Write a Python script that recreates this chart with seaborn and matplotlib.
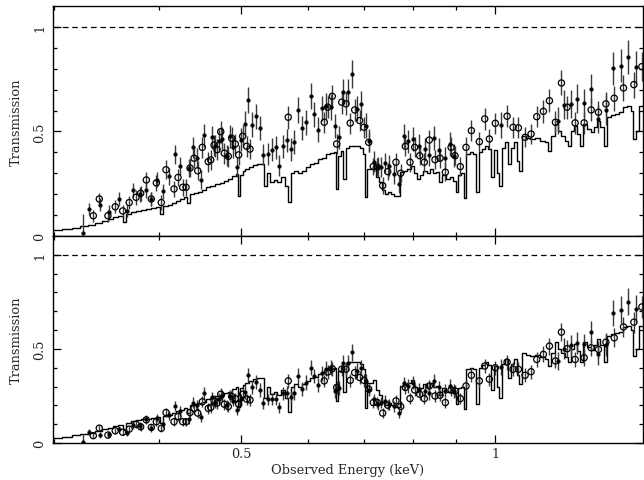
import numpy as np
import pandas as pd
import matplotlib
matplotlib.use("Agg")
import matplotlib.pyplot as plt
import matplotlib.ticker as mticker
import seaborn as sns

# ---------------- data ----------------
# model (step) : bin start energies (keV) and transmission
model_E = [0.2970, 0.3067, 0.3153, 0.3223, 0.3294, 0.3359, 0.3423, 0.3479, 0.3527, 0.3575,
           0.3625, 0.3654, 0.3705, 0.3756, 0.3807, 0.3860, 0.3913, 0.3966, 0.4010, 0.4043,
           0.4099, 0.4144, 0.4189, 0.4235, 0.4282, 0.4317, 0.4352, 0.4400, 0.4448, 0.4497,
           0.4546, 0.4596, 0.4659, 0.4723, 0.4775, 0.4827, 0.4880, 0.4933, 0.4960, 0.4987,
           0.5028, 0.5056, 0.5111, 0.5167, 0.5224, 0.5325, 0.5369, 0.5413, 0.5473, 0.5517,
           0.5577, 0.5639, 0.5685, 0.5732, 0.5779, 0.5842, 0.5906, 0.5971, 0.6036, 0.6102,
           0.6169, 0.6237, 0.6305, 0.6375, 0.6445, 0.6480, 0.6516, 0.6569, 0.6605, 0.6659,
           0.6713, 0.6843, 0.6918, 0.6975, 0.7013, 0.7052, 0.7110, 0.7168, 0.7227, 0.7286,
           0.7346, 0.7407, 0.7467, 0.7528, 0.7591, 0.7653, 0.7716, 0.7801, 0.7865, 0.7950,
           0.8016, 0.8082, 0.8149, 0.8216, 0.8306, 0.8374, 0.8443, 0.8512, 0.8582, 0.8653,
           0.8748, 0.8844, 0.8917, 0.8990, 0.9040, 0.9114, 0.9189, 0.9239, 0.9340, 0.9417,
           0.9494, 0.9572, 0.9652, 0.9731, 0.9811, 0.9890, 0.9973, 1.0055, 1.0110, 1.0193,
           1.0277, 1.0361, 1.0446, 1.0533, 1.0619, 1.0676, 1.0765, 1.0883, 1.1002, 1.1154,
           1.1307, 1.1463, 1.1557, 1.1652, 1.1780, 1.1877, 1.1974, 1.2106, 1.2205, 1.2306,
           1.2407, 1.2509, 1.2611, 1.2714, 1.2854, 1.2996, 1.3104, 1.3211, 1.3320, 1.3467,
           1.3577, 1.3725, 1.3877, 1.4027, 1.4181, 1.4337, 1.4493, 1.4573, 1.4693, 1.4812,
           1.4970]
model_T = [0.029, 0.034, 0.040, 0.048, 0.054, 0.062, 0.072, 0.080, 0.090, 0.097,
           0.067, 0.105, 0.115, 0.121, 0.125, 0.129, 0.135, 0.140, 0.105, 0.145,
           0.150, 0.158, 0.169, 0.175, 0.185, 0.160, 0.200, 0.205, 0.212, 0.220,
           0.233, 0.240, 0.249, 0.255, 0.265, 0.273, 0.285, 0.297, 0.193, 0.290,
           0.310, 0.320, 0.330, 0.340, 0.344, 0.240, 0.300, 0.260, 0.270, 0.257,
           0.280, 0.240, 0.164, 0.300, 0.312, 0.300, 0.312, 0.330, 0.344, 0.350,
           0.368, 0.375, 0.392, 0.395, 0.400, 0.225, 0.384, 0.408, 0.273, 0.420,
           0.432, 0.432, 0.420, 0.392, 0.185, 0.320, 0.321, 0.336, 0.280, 0.257,
           0.220, 0.200, 0.210, 0.200, 0.190, 0.193, 0.305, 0.310, 0.321, 0.336,
           0.300, 0.273, 0.290, 0.312, 0.300, 0.321, 0.300, 0.305, 0.257, 0.290,
           0.273, 0.280, 0.265, 0.209, 0.290, 0.300, 0.180, 0.392, 0.400, 0.392,
           0.209, 0.400, 0.416, 0.432, 0.416, 0.281, 0.410, 0.300, 0.241, 0.420,
           0.448, 0.344, 0.420, 0.448, 0.360, 0.312, 0.480, 0.470, 0.464, 0.470,
           0.455, 0.448, 0.408, 0.480, 0.536, 0.500, 0.480, 0.455, 0.432, 0.500,
           0.528, 0.490, 0.432, 0.536, 0.510, 0.496, 0.520, 0.552, 0.520, 0.432,
           0.568, 0.580, 0.584, 0.592, 0.616, 0.624, 0.600, 0.464, 0.500, 0.624,
           0.624]

# filled-symbol data set: energies (keV)
filled_E = [0.3249, 0.3306, 0.3404, 0.3491, 0.3582, 0.3661, 0.3728, 0.3797, 0.3857, 0.3913,
            0.3974, 0.4046, 0.4113, 0.4181, 0.4235, 0.4344, 0.4391, 0.4432, 0.4484, 0.4525,
            0.4618, 0.4659, 0.4710, 0.4745, 0.4810, 0.4853, 0.4897, 0.4947, 0.5001, 0.5051,
            0.5101, 0.5157, 0.5210, 0.5262, 0.5314, 0.5380, 0.5438, 0.5498, 0.5552, 0.5608,
            0.5664, 0.5727, 0.5783, 0.5847, 0.5906, 0.5976, 0.6047, 0.6107, 0.6174, 0.6242,
            0.6311, 0.6398, 0.6463, 0.6534, 0.6610, 0.6696, 0.6774, 0.6856, 0.6937, 0.7027,
            0.7096, 0.7188, 0.7273, 0.7326, 0.7407, 0.7494, 0.7591, 0.7689, 0.7794, 0.7893,
            0.8000, 0.8133, 0.8261, 0.8358, 0.8473, 0.8589, 0.8716, 0.8844, 0.8948, 1.0165,
            1.1866, 1.2082, 1.2306, 1.2509, 1.2750, 1.2996, 1.3258, 1.3529, 1.3811, 1.4093,
            1.4388, 1.4706]
filled_top = [0.014, 0.130, 0.150, 0.116, 0.177, 0.120, 0.220, 0.200, 0.220, 0.177,
              0.270, 0.214, 0.286, 0.390, 0.336, 0.325, 0.424, 0.375, 0.270, 0.483,
              0.472, 0.432, 0.456, 0.464, 0.384, 0.477, 0.424, 0.332, 0.460, 0.536,
              0.651, 0.533, 0.573, 0.515, 0.388, 0.392, 0.413, 0.424, 0.336, 0.429,
              0.459, 0.416, 0.448, 0.604, 0.517, 0.544, 0.671, 0.582, 0.509, 0.611,
              0.620, 0.616, 0.525, 0.472, 0.687, 0.687, 0.775, 0.608, 0.632, 0.528,
              0.456, 0.356, 0.329, 0.329, 0.349, 0.336, 0.297, 0.249, 0.480, 0.453,
              0.464, 0.432, 0.416, 0.388, 0.467, 0.413, 0.372, 0.440, 0.384, 0.531,
              0.552, 0.628, 0.632, 0.656, 0.636, 0.703, 0.560, 0.603, 0.802, 0.815,
              0.855, 0.807]
filled_top_err = [0.090, 0.028, 0.030, 0.030, 0.032, 0.030, 0.035, 0.035, 0.036, 0.035,
                  0.038, 0.036, 0.040, 0.045, 0.042, 0.045, 0.050, 0.048, 0.045, 0.055,
                  0.055, 0.052, 0.055, 0.055, 0.050, 0.055, 0.052, 0.048, 0.055, 0.060,
                  0.062, 0.058, 0.060, 0.058, 0.050, 0.052, 0.055, 0.055, 0.050, 0.055,
                  0.055, 0.055, 0.058, 0.062, 0.058, 0.060, 0.062, 0.060, 0.058, 0.060,
                  0.062, 0.062, 0.058, 0.055, 0.062, 0.062, 0.065, 0.060, 0.062, 0.058,
                  0.055, 0.050, 0.048, 0.048, 0.050, 0.050, 0.048, 0.045, 0.058, 0.055,
                  0.058, 0.055, 0.055, 0.052, 0.058, 0.055, 0.052, 0.058, 0.055, 0.060,
                  0.065, 0.068, 0.068, 0.070, 0.068, 0.072, 0.068, 0.070, 0.080, 0.080,
                  0.082, 0.080]
filled_bot = [0.005, 0.057, 0.044, 0.048, 0.074, 0.053, 0.095, 0.092, 0.127, 0.079,
              0.131, 0.100, 0.148, 0.197, 0.171, 0.127, 0.215, 0.201, 0.136, 0.265,
              0.242, 0.215, 0.236, 0.250, 0.201, 0.250, 0.224, 0.176, 0.233, 0.271,
              0.360, 0.295, 0.324, 0.282, 0.212, 0.233, 0.233, 0.233, 0.189, 0.265,
              0.268, 0.242, 0.265, 0.356, 0.286, 0.321, 0.400, 0.356, 0.307, 0.370,
              0.395, 0.400, 0.277, 0.291, 0.427, 0.427, 0.483, 0.383, 0.400, 0.330,
              0.282, 0.233, 0.206, 0.215, 0.224, 0.206, 0.194, 0.162, 0.317, 0.303,
              0.321, 0.286, 0.277, 0.265, 0.330, 0.295, 0.277, 0.303, 0.277, 0.404,
              0.436, 0.501, 0.519, 0.533, 0.524, 0.589, 0.471, 0.519, 0.692, 0.709,
              0.750, 0.714]
filled_bot_err = [0.045, 0.016, 0.016, 0.016, 0.018, 0.016, 0.020, 0.020, 0.022, 0.020,
                  0.022, 0.020, 0.024, 0.028, 0.025, 0.024, 0.030, 0.028, 0.025, 0.032,
                  0.030, 0.030, 0.030, 0.032, 0.030, 0.032, 0.030, 0.028, 0.030, 0.035,
                  0.040, 0.036, 0.036, 0.035, 0.030, 0.030, 0.032, 0.032, 0.030, 0.034,
                  0.034, 0.032, 0.034, 0.040, 0.036, 0.038, 0.040, 0.038, 0.036, 0.040,
                  0.040, 0.040, 0.036, 0.036, 0.042, 0.042, 0.045, 0.040, 0.040, 0.036,
                  0.034, 0.030, 0.030, 0.030, 0.030, 0.030, 0.030, 0.030, 0.036, 0.036,
                  0.036, 0.035, 0.035, 0.034, 0.038, 0.036, 0.035, 0.038, 0.036, 0.045,
                  0.050, 0.055, 0.055, 0.058, 0.055, 0.060, 0.055, 0.058, 0.070, 0.070,
                  0.072, 0.070]

# open-symbol data set
open_E = [0.3343, 0.3398, 0.3479, 0.3549, 0.3622, 0.3687, 0.3756, 0.3804, 0.3863, 0.3916,
          0.3970, 0.4024, 0.4076, 0.4166, 0.4212, 0.4266, 0.4305, 0.4352, 0.4400, 0.4444,
          0.4500, 0.4574, 0.4605, 0.4647, 0.4685, 0.4732, 0.4779, 0.4831, 0.4876, 0.4924,
          0.4970, 0.5024, 0.5079, 0.5125, 0.5689, 0.6276, 0.6334, 0.6415, 0.6492, 0.6582,
          0.6659, 0.6737, 0.6819, 0.6912, 0.6994, 0.7085, 0.7174, 0.7253, 0.7360, 0.7461,
          0.7632, 0.7731, 0.7829, 0.7929, 0.8031, 0.8142, 0.8245, 0.8358, 0.8489, 0.8606,
          0.8732, 0.8870, 0.8966, 0.9096, 0.9239, 0.9374, 0.9580, 0.9722, 0.9846, 1.0007,
          1.0333, 1.0503, 1.0657, 1.0854, 1.1032, 1.1204, 1.1409, 1.1598, 1.1790, 1.1984,
          1.2171, 1.2441, 1.2750, 1.2996, 1.3258, 1.3529, 1.3839, 1.4193, 1.4601, 1.4924]
open_top = [0.097, 0.177, 0.097, 0.140, 0.120, 0.160, 0.185, 0.204, 0.268, 0.177,
            0.254, 0.160, 0.317, 0.225, 0.280, 0.233, 0.233, 0.325, 0.372, 0.312,
            0.424, 0.356, 0.364, 0.435, 0.413, 0.499, 0.396, 0.381, 0.467, 0.440,
            0.388, 0.477, 0.429, 0.416, 0.568, 0.544, 0.616, 0.668, 0.440, 0.640,
            0.632, 0.540, 0.603, 0.552, 0.520, 0.448, 0.333, 0.329, 0.241, 0.308,
            0.353, 0.300, 0.429, 0.353, 0.424, 0.384, 0.353, 0.459, 0.365, 0.372,
            0.305, 0.424, 0.384, 0.332, 0.424, 0.504, 0.451, 0.560, 0.464, 0.539,
            0.573, 0.520, 0.517, 0.472, 0.488, 0.571, 0.596, 0.647, 0.544, 0.732,
            0.616, 0.541, 0.541, 0.603, 0.592, 0.632, 0.659, 0.708, 0.724, 0.810]
open_top_err = [0.028, 0.030, 0.028, 0.030, 0.030, 0.032, 0.035, 0.035, 0.040, 0.035,
                0.040, 0.035, 0.045, 0.040, 0.042, 0.040, 0.040, 0.045, 0.048, 0.045,
                0.050, 0.048, 0.048, 0.050, 0.050, 0.052, 0.050, 0.050, 0.052, 0.050,
                0.048, 0.052, 0.050, 0.050, 0.055, 0.050, 0.052, 0.055, 0.048, 0.055,
                0.055, 0.050, 0.052, 0.050, 0.050, 0.048, 0.042, 0.042, 0.040, 0.042,
                0.045, 0.042, 0.048, 0.045, 0.048, 0.045, 0.045, 0.050, 0.045, 0.045,
                0.042, 0.048, 0.045, 0.045, 0.048, 0.050, 0.048, 0.052, 0.048, 0.050,
                0.052, 0.050, 0.050, 0.048, 0.050, 0.052, 0.055, 0.055, 0.052, 0.060,
                0.055, 0.052, 0.052, 0.055, 0.055, 0.058, 0.060, 0.062, 0.062, 0.068]
open_bot = [0.039, 0.079, 0.042, 0.065, 0.057, 0.074, 0.100, 0.086, 0.123, 0.083,
            0.113, 0.078, 0.162, 0.113, 0.141, 0.113, 0.113, 0.162, 0.184, 0.159,
            0.219, 0.184, 0.189, 0.224, 0.212, 0.259, 0.206, 0.194, 0.247, 0.236,
            0.206, 0.259, 0.233, 0.229, 0.330, 0.330, 0.377, 0.395, 0.295, 0.392,
            0.392, 0.333, 0.374, 0.348, 0.333, 0.286, 0.215, 0.215, 0.159, 0.201,
            0.224, 0.194, 0.295, 0.236, 0.282, 0.259, 0.236, 0.303, 0.250, 0.254,
            0.215, 0.282, 0.277, 0.236, 0.303, 0.360, 0.330, 0.409, 0.339, 0.400,
            0.430, 0.392, 0.392, 0.360, 0.379, 0.444, 0.471, 0.515, 0.436, 0.589,
            0.501, 0.444, 0.453, 0.506, 0.497, 0.536, 0.559, 0.617, 0.642, 0.723]
open_bot_err = [0.014, 0.016, 0.014, 0.016, 0.016, 0.018, 0.020, 0.020, 0.022, 0.020,
                0.022, 0.020, 0.025, 0.022, 0.024, 0.022, 0.022, 0.026, 0.028, 0.026,
                0.030, 0.028, 0.028, 0.030, 0.030, 0.032, 0.030, 0.030, 0.032, 0.030,
                0.030, 0.032, 0.030, 0.030, 0.036, 0.034, 0.036, 0.038, 0.032, 0.038,
                0.038, 0.034, 0.036, 0.034, 0.034, 0.030, 0.028, 0.028, 0.026, 0.028,
                0.030, 0.028, 0.032, 0.030, 0.032, 0.030, 0.030, 0.034, 0.030, 0.030,
                0.028, 0.032, 0.030, 0.030, 0.034, 0.036, 0.034, 0.038, 0.034, 0.038,
                0.040, 0.038, 0.038, 0.036, 0.038, 0.040, 0.042, 0.045, 0.040, 0.048,
                0.045, 0.042, 0.042, 0.045, 0.045, 0.048, 0.050, 0.052, 0.055, 0.060]

x_major = [0.5, 1.0]
x_major_labels = ["0.5", "1"]
x_minor = [0.3, 0.4, 0.6, 0.7, 0.8, 0.9]
y_major = [0.0, 0.5, 1.0]
y_major_labels = ["0", "0.5", "1"]
y_minor = [0.1, 0.2, 0.3, 0.4, 0.6, 0.7, 0.8, 0.9]

# ---------------- style ----------------
sns.set_theme(style="ticks")
plt.rcParams["font.family"] = ["DejaVu Serif"]
plt.rcParams["axes.linewidth"] = 1.0
plt.rcParams["axes.edgecolor"] = "black"

fig = plt.figure(figsize=(6.44, 4.81), dpi=100)
ax_top = fig.add_axes([53 / 644, 1 - 237 / 481, 590 / 644, 230 / 481])
ax_bot = fig.add_axes([53 / 644, 1 - 444 / 481, 590 / 644, 207 / 481])

model_df = pd.DataFrame({"E": model_E, "T": model_T})


def draw_panel(ax, f_vals, f_err, o_vals, o_err):
    ax.axhline(1.0, color="black", lw=0.9, ls=(0, (4.5, 3)), zorder=1)
    sns.lineplot(data=model_df, x="E", y="T", drawstyle="steps-post",
                 color="black", lw=1.0, ax=ax, zorder=2, estimator=None, sort=False)
    ax.errorbar(filled_E, f_vals, yerr=f_err, fmt="none", ecolor="#3a3a3a",
                elinewidth=1.0, capsize=0, zorder=3)
    ax.errorbar(open_E, o_vals, yerr=o_err, fmt="none", ecolor="#3a3a3a",
                elinewidth=1.0, capsize=0, zorder=3)
    sns.scatterplot(x=open_E, y=o_vals, marker="o", s=20, facecolor="none",
                    edgecolor="black", linewidth=0.9, ax=ax, zorder=4)
    sns.scatterplot(x=filled_E, y=f_vals, marker="o", s=7, color="black",
                    edgecolor="black", linewidth=0.3, ax=ax, zorder=5)

    ax.set_xscale("log")
    ax.set_xlim(0.2995, 1.497)
    ax.set_ylim(0, 1.1)
    ax.xaxis.set_major_locator(mticker.FixedLocator(x_major))
    ax.xaxis.set_minor_locator(mticker.FixedLocator(x_minor))
    ax.xaxis.set_minor_formatter(mticker.NullFormatter())
    ax.yaxis.set_major_locator(mticker.FixedLocator(y_major))
    ax.yaxis.set_minor_locator(mticker.FixedLocator(y_minor))
    ax.yaxis.set_major_formatter(mticker.FixedFormatter(y_major_labels))
    ax.tick_params(which="both", direction="in", top=True, right=True,
                   color="black", width=0.9)
    ax.tick_params(which="major", length=6)
    ax.tick_params(which="minor", length=3.2)
    ax.tick_params(axis="y", labelsize=9.2, pad=5)
    for lab in ax.get_yticklabels():
        lab.set_rotation(90)
        lab.set_va("center")
    ax.set_ylabel("Transmission", fontsize=9.4, labelpad=7)
    for sp in ax.spines.values():
        sp.set_visible(True)
        sp.set_linewidth(1.0)


draw_panel(ax_top, filled_top, filled_top_err, open_top, open_top_err)
draw_panel(ax_bot, filled_bot, filled_bot_err, open_bot, open_bot_err)

ax_top.set_xticklabels([])
ax_top.set_xlabel("")
ax_bot.xaxis.set_major_formatter(mticker.FixedFormatter(x_major_labels))
ax_bot.tick_params(axis="x", labelsize=9.2, pad=3)
ax_bot.set_xlabel("Observed Energy (keV)", fontsize=9.4, labelpad=2)

fig.savefig("out.png", dpi=100, facecolor="white")
